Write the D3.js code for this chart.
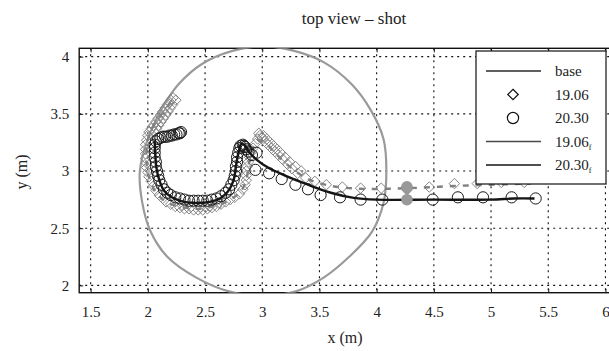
<!DOCTYPE html>
<html>
<head>
<meta charset="utf-8">
<script src="https://cdn.jsdelivr.net/npm/d3@7/dist/d3.min.js"></script>
<style>
  body { margin: 0; background: #fff; }
  svg text { font-family: "Liberation Serif", "DejaVu Serif", serif; fill: #222; }
</style>
</head>
<body>
<svg id="chart" width="609" height="351"></svg>
<script>
// ticks
const xTicks = [1.5, 2, 2.5, 3, 3.5, 4, 4.5, 5, 5.5, 6];
const yTicks = [2, 2.5, 3, 3.5, 4];

// base (gray reference contour, closed)
const baseX = [4.085, 4.06, 3.95, 3.78, 3.54, 3.28, 3.01, 2.74, 2.48, 2.27, 2.12, 2.00, 1.93, 1.95, 2.02, 2.17, 2.42, 2.70, 3.00, 3.30, 3.54, 3.76, 3.96, 4.06];
const baseY = [3.00, 3.28, 3.53, 3.76, 3.95, 4.05, 4.09, 4.05, 3.94, 3.76, 3.54, 3.28, 3.00, 2.73, 2.48, 2.25, 2.07, 1.95, 1.91, 1.95, 2.07, 2.25, 2.47, 2.72];

// 19.06 measured (diamonds)
const d1906X = [2.22, 2.20, 2.19, 2.17, 2.15, 2.13, 2.11, 2.09, 2.07, 2.05, 2.03, 2.01, 2.00, 1.99, 1.98, 1.98, 1.98, 1.98, 1.99, 1.99, 2.00, 2.01, 2.03, 2.05, 2.07, 2.10, 2.13, 2.16, 2.20, 2.24, 2.28, 2.32, 2.36, 2.40, 2.44, 2.48, 2.52, 2.56, 2.60, 2.64, 2.68, 2.72, 2.76, 2.80, 2.83, 2.85, 2.86, 2.86, 2.86, 2.87, 2.88, 2.89, 2.90, 2.92, 2.94, 2.96, 2.98, 3.00, 3.02, 3.05, 3.08, 3.11, 3.14, 3.18, 3.22, 3.26, 3.31, 3.38, 3.46, 3.56, 3.70, 3.86, 4.04, 4.26, 4.46, 4.68, 4.88, 5.09, 5.29,
  2.245, 2.215, 2.195, 2.175, 2.155, 2.135, 2.115, 2.095, 2.075, 2.055, 2.97, 3.01, 3.04, 3.07, 3.10, 3.13, 3.16, 3.20, 3.24, 3.29, 3.34, 2.30, 2.38, 2.46, 2.54, 2.62];
const d1906Y = [3.64, 3.62, 3.60, 3.58, 3.55, 3.52, 3.49, 3.46, 3.43, 3.40, 3.37, 3.34, 3.31, 3.27, 3.23, 3.19, 3.15, 3.11, 3.07, 3.03, 2.99, 2.95, 2.91, 2.87, 2.83, 2.79, 2.76, 2.73, 2.71, 2.69, 2.68, 2.67, 2.67, 2.66, 2.66, 2.66, 2.67, 2.68, 2.69, 2.71, 2.73, 2.75, 2.77, 2.80, 2.84, 2.88, 2.92, 2.96, 3.00, 3.04, 3.08, 3.12, 3.16, 3.20, 3.24, 3.28, 3.31, 3.29, 3.26, 3.23, 3.20, 3.17, 3.14, 3.10, 3.06, 3.02, 2.98, 2.94, 2.91, 2.88, 2.86, 2.85, 2.85, 2.86, 2.86, 2.89, 2.89, 2.90, 2.90,
  3.62, 3.58, 3.55, 3.52, 3.49, 3.46, 3.43, 3.40, 3.37, 3.34, 3.33, 3.31, 3.28, 3.25, 3.22, 3.19, 3.16, 3.12, 3.08, 3.04, 3.00, 2.70, 2.69, 2.685, 2.69, 2.72];

// 20.30 measured (circles)
const c2030X = [2.29, 2.28, 2.27, 2.25, 2.23, 2.21, 2.19, 2.17, 2.15, 2.13, 2.11, 2.09, 2.07, 2.06, 2.06, 2.06, 2.06, 2.07, 2.07, 2.08, 2.09, 2.10, 2.12, 2.14, 2.17, 2.20, 2.24, 2.28, 2.32, 2.36, 2.40, 2.44, 2.48, 2.52, 2.56, 2.60, 2.64, 2.68, 2.71, 2.73, 2.75, 2.76, 2.77, 2.77, 2.78, 2.78, 2.79, 2.80, 2.81, 2.83, 2.84, 2.85, 2.86, 2.88, 2.91, 2.95, 2.94, 3.06, 3.17, 3.29, 3.40, 3.51, 3.68, 3.86, 4.05, 4.49, 4.71, 4.93, 5.18, 5.39];
const c2030Y = [3.34, 3.33, 3.33, 3.32, 3.32, 3.31, 3.31, 3.30, 3.30, 3.30, 3.29, 3.28, 3.26, 3.23, 3.20, 3.16, 3.12, 3.08, 3.04, 3.00, 2.96, 2.92, 2.88, 2.84, 2.81, 2.79, 2.77, 2.76, 2.75, 2.74, 2.74, 2.74, 2.74, 2.74, 2.75, 2.76, 2.78, 2.81, 2.84, 2.88, 2.92, 2.96, 3.00, 3.04, 3.08, 3.12, 3.16, 3.20, 3.22, 3.23, 3.22, 3.21, 3.19, 3.17, 3.14, 3.16, 3.01, 2.98, 2.93, 2.88, 2.84, 2.79, 2.77, 2.75, 2.75, 2.75, 2.77, 2.77, 2.77, 2.76];

// 19.06_f filtered (dashed)
const f1906X = [2.20, 2.10, 2.02, 1.99, 1.99, 2.02, 2.08, 2.18, 2.32, 2.46, 2.60, 2.72, 2.81, 2.86, 2.88, 2.91, 2.96, 3.02, 3.12, 3.25, 3.40, 3.60, 3.85, 4.10, 4.40, 4.70, 5.00, 5.35];
const f1906Y = [3.60, 3.47, 3.34, 3.20, 3.05, 2.92, 2.80, 2.72, 2.68, 2.67, 2.70, 2.75, 2.82, 2.92, 3.05, 3.17, 3.27, 3.25, 3.15, 3.03, 2.93, 2.87, 2.845, 2.845, 2.855, 2.87, 2.88, 2.89];

// 20.30_f filtered (solid)
const f2030X = [2.06, 2.065, 2.075, 2.10, 2.14, 2.21, 2.30, 2.42, 2.54, 2.63, 2.70, 2.75, 2.77, 2.79, 2.82, 2.85, 2.88, 2.95, 3.05, 3.20, 3.40, 3.60, 3.80, 4.00, 4.50, 5.00, 5.20, 5.38];
const f2030Y = [3.27, 3.15, 3.03, 2.92, 2.83, 2.77, 2.735, 2.72, 2.73, 2.76, 2.82, 2.92, 3.04, 3.15, 3.24, 3.22, 3.17, 3.10, 3.03, 2.96, 2.88, 2.81, 2.765, 2.75, 2.75, 2.75, 2.76, 2.76];

// impact points (filled gray)
const hitX = [4.265, 4.265];
const hitY = [2.862, 2.749];

const legendLabels = ["base", "19.06", "20.30", "19.06", "20.30"];

const svg = d3.select("#chart");
const pL = 79.2, pT = 48.3, pB = 292.7;
const x = d3.scaleLinear().domain([1.4, 6.1]).range([pL, pL + 4.7 * 114.4]);
const y = d3.scaleLinear().domain([1.936, 4.073]).range([pB, pT]);
const pR = x(6.1);

svg.append("defs").append("clipPath").attr("id", "clip")
  .append("rect").attr("x", pL).attr("y", pT)
  .attr("width", pR - pL).attr("height", pB - pT);

// grid
const grid = svg.append("g").attr("stroke", "#111").attr("stroke-width", 1.1)
  .attr("stroke-dasharray", "2,4");
grid.selectAll(".gx").data(xTicks).join("line")
  .attr("x1", d => x(d)).attr("x2", d => x(d)).attr("y1", pT).attr("y2", pB);
grid.selectAll(".gy").data(yTicks).join("line")
  .attr("x1", pL).attr("x2", pR).attr("y1", d => y(d)).attr("y2", d => y(d));

// axes
const xAxis = svg.append("g").attr("transform", `translate(0,${pB})`)
  .call(d3.axisBottom(x).tickValues(xTicks).tickSize(-4).tickPadding(14).tickFormat(d3.format("")));
const yAxis = svg.append("g").attr("transform", `translate(${pL},0)`)
  .call(d3.axisLeft(y).tickValues(yTicks).tickSize(-4).tickPadding(10).tickFormat(d3.format("")));
[xAxis, yAxis].forEach(a => {
  a.select(".domain").remove();
  a.selectAll(".tick line").attr("stroke", "#111");
  a.selectAll(".tick text").attr("font-size", 15).attr("fill", "#222")
    .style("font-family", '"Liberation Serif", serif');
});
svg.append("g").attr("transform", `translate(0,${pT})`)
  .call(d3.axisTop(x).tickValues(xTicks).tickSize(-4).tickFormat(""))
  .call(g => g.select(".domain").remove())
  .selectAll(".tick line").attr("stroke", "#111");

// frame
svg.append("rect").attr("x", pL).attr("y", pT)
  .attr("width", pR - pL).attr("height", pB - pT)
  .attr("fill", "none").attr("stroke", "#111").attr("stroke-width", 1.4);

const plot = svg.append("g").attr("clip-path", "url(#clip)");
const line = d3.line().x(d => x(d[0])).y(d => y(d[1])).curve(d3.curveCatmullRom);

// base contour
plot.append("path")
  .attr("d", d3.line().x(d => x(d[0])).y(d => y(d[1])).curve(d3.curveCatmullRomClosed)(d3.zip(baseX, baseY)))
  .attr("fill", "none").attr("stroke", "#9a9a9a").attr("stroke-width", 2.2);

const diamond = d3.symbol().type(d3.symbolDiamond2).size(70);
plot.selectAll(".dia").data(d3.zip(d1906X, d1906Y)).join("path")
  .attr("d", diamond)
  .attr("transform", d => `translate(${x(d[0])},${y(d[1])})`)
  .attr("fill", "none").attr("stroke", "#858585").attr("stroke-width", 1);

plot.append("path").attr("d", line(d3.zip(f1906X, f1906Y)))
  .attr("fill", "none").attr("stroke", "#808080").attr("stroke-width", 2.4)
  .attr("stroke-dasharray", "6,7");

plot.selectAll(".cir").data(d3.zip(c2030X, c2030Y)).join("circle")
  .attr("cx", d => x(d[0])).attr("cy", d => y(d[1])).attr("r", 5.6)
  .attr("fill", "none").attr("stroke", "#1a1a1a").attr("stroke-width", 1);

plot.append("path").attr("d", line(d3.zip(f2030X, f2030Y)))
  .attr("fill", "none").attr("stroke", "#151515").attr("stroke-width", 2.4);

plot.append("path").attr("d", d3.symbol().type(d3.symbolDiamond2).size(90)())
  .attr("transform", `translate(${x(hitX[0])},${y(hitY[0]) + 3})`)
  .attr("fill", "#999");
plot.selectAll(".hit").data(d3.zip(hitX, hitY)).join("circle")
  .attr("cx", d => x(d[0])).attr("cy", d => y(d[1])).attr("r", 5.8)
  .attr("fill", "#999");

// legend
const lg = svg.append("g");
lg.append("rect").attr("x", 476).attr("y", 51).attr("width", 130).attr("height", 133)
  .attr("fill", "#fff").attr("stroke", "#111").attr("stroke-width", 1.2);
const rowY = i => 71 + i * 23.5;
const lineColors = ["#2a2a2a", null, null, "#4a4a4a", "#151515"];
legendLabels.forEach((lab, i) => {
  const cy = rowY(i);
  if (lineColors[i]) {
    lg.append("line").attr("x1", 486).attr("x2", 541).attr("y1", cy).attr("y2", cy)
      .attr("stroke", lineColors[i]).attr("stroke-width", 1.6);
  } else if (i === 1) {
    lg.append("path").attr("d", d3.symbol().type(d3.symbolDiamond2).size(70)())
      .attr("transform", `translate(513,${cy})`).attr("fill", "none")
      .attr("stroke", "#111").attr("stroke-width", 1.2);
  } else {
    lg.append("circle").attr("cx", 513).attr("cy", cy).attr("r", 5.6)
      .attr("fill", "none").attr("stroke", "#111").attr("stroke-width", 1.2);
  }
  const t = lg.append("text").attr("x", 555).attr("y", cy + 5).attr("font-size", 15).text(lab);
  if (i >= 3) t.append("tspan").attr("font-size", 8).attr("dy", 3).text("f");
});

// titles
svg.append("text").attr("x", 354).attr("y", 24).attr("text-anchor", "middle")
  .attr("font-size", 17).text("top view – shot");
svg.append("text").attr("x", 345).attr("y", 343).attr("text-anchor", "middle")
  .attr("font-size", 16).text("x (m)");
svg.append("text").attr("transform", "translate(27,172) rotate(-90)")
  .attr("text-anchor", "middle").attr("font-size", 16).text("y (m)");
</script>
</body>
</html>
